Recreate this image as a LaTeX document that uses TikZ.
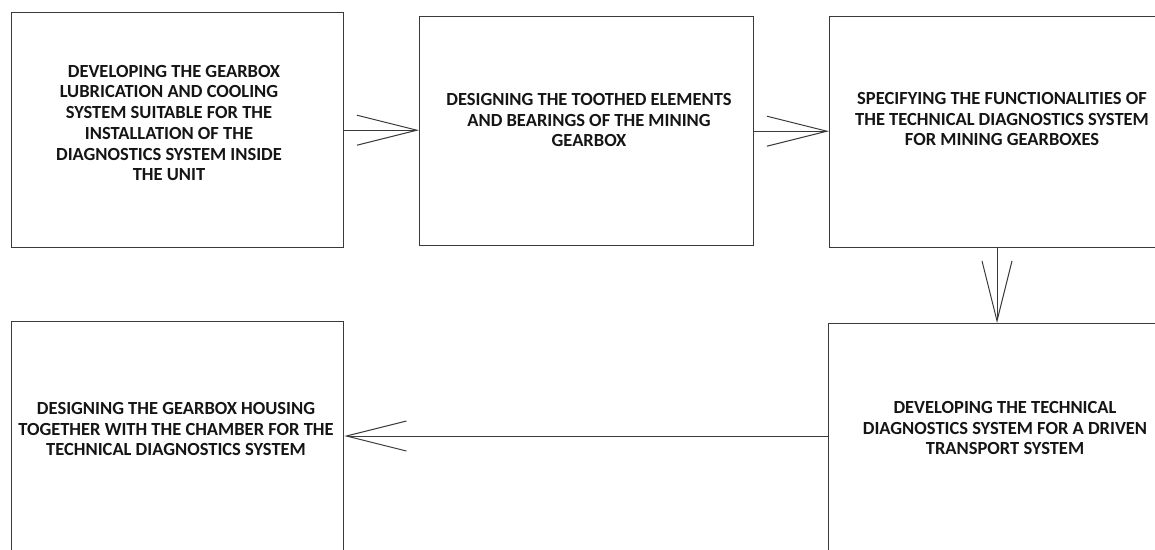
\documentclass[tikz,border=0pt]{standalone}
\usepackage{fontspec}
\setmainfont{Carlito}
\usetikzlibrary{arrows.meta,calc}
\definecolor{boxgray}{HTML}{3A3A3A}
\definecolor{txt}{HTML}{151515}
\begin{document}
\begin{tikzpicture}[x=1pt,y=-1pt,
  box/.style={draw=boxgray, line width=1.4pt, inner sep=0pt, anchor=north west},
  lbl/.style={font=\bfseries\fontsize{18.5}{20.7}\selectfont, align=center, text=txt, inner sep=0pt},
  arr/.style={draw=boxgray, line width=1pt, -{Straight Barb[length=60pt,width=30pt,line width=1pt]}}]
\path[use as bounding box] (0,0) rectangle (1155,549);
\clip (0,0) rectangle (1155,549);
\fill[white] (0,0) rectangle (1155,549);
% boxes
\node[box, minimum width=332pt, minimum height=235pt] (b1) at (11,12) {};
\node[box, minimum width=334pt, minimum height=229pt] (b2) at (419,16) {};
\node[box, minimum width=346pt, minimum height=231pt] (b3) at (829,16) {};
\node[box, minimum width=347pt, minimum height=240pt] (b4) at (828,323) {};
\node[box, minimum width=332pt, minimum height=240pt] (b5) at (11,321) {};
% texts
\node[lbl] (t1) at (169,123) {\hspace*{10pt}DEVELOPING THE GEARBOX\\LUBRICATION AND COOLING\\SYSTEM SUITABLE FOR THE\\INSTALLATION OF THE\\DIAGNOSTICS SYSTEM INSIDE\\THE UNIT};
\node[lbl] (t2) at (589,120) {DESIGNING THE TOOTHED ELEMENTS\\AND BEARINGS OF THE MINING\\GEARBOX};
\node[lbl] (t3) at (1002,119) {SPECIFYING THE FUNCTIONALITIES OF\\THE TECHNICAL DIAGNOSTICS SYSTEM\\FOR MINING GEARBOXES};
\node[lbl] (t4) at (1005,428) {DEVELOPING THE TECHNICAL\\DIAGNOSTICS SYSTEM FOR A DRIVEN\\TRANSPORT SYSTEM};
\node[lbl] (t5) at (176,429) {DESIGNING THE GEARBOX HOUSING\\TOGETHER WITH THE CHAMBER FOR THE\\TECHNICAL DIAGNOSTICS SYSTEM};
% connectors
\coordinate (ax) at (997,0);
\coordinate (ay) at (0,436);
\draw[arr] (b1.east) -- (b1.east -| b2.west);
\draw[arr] (b2.east) -- (b2.east -| b3.west);
\draw[arr] (b3.south -| ax) -- (b4.north -| ax);
\draw[arr] (b4.west |- ay) -- (b5.east |- ay);
\end{tikzpicture}
\end{document}
